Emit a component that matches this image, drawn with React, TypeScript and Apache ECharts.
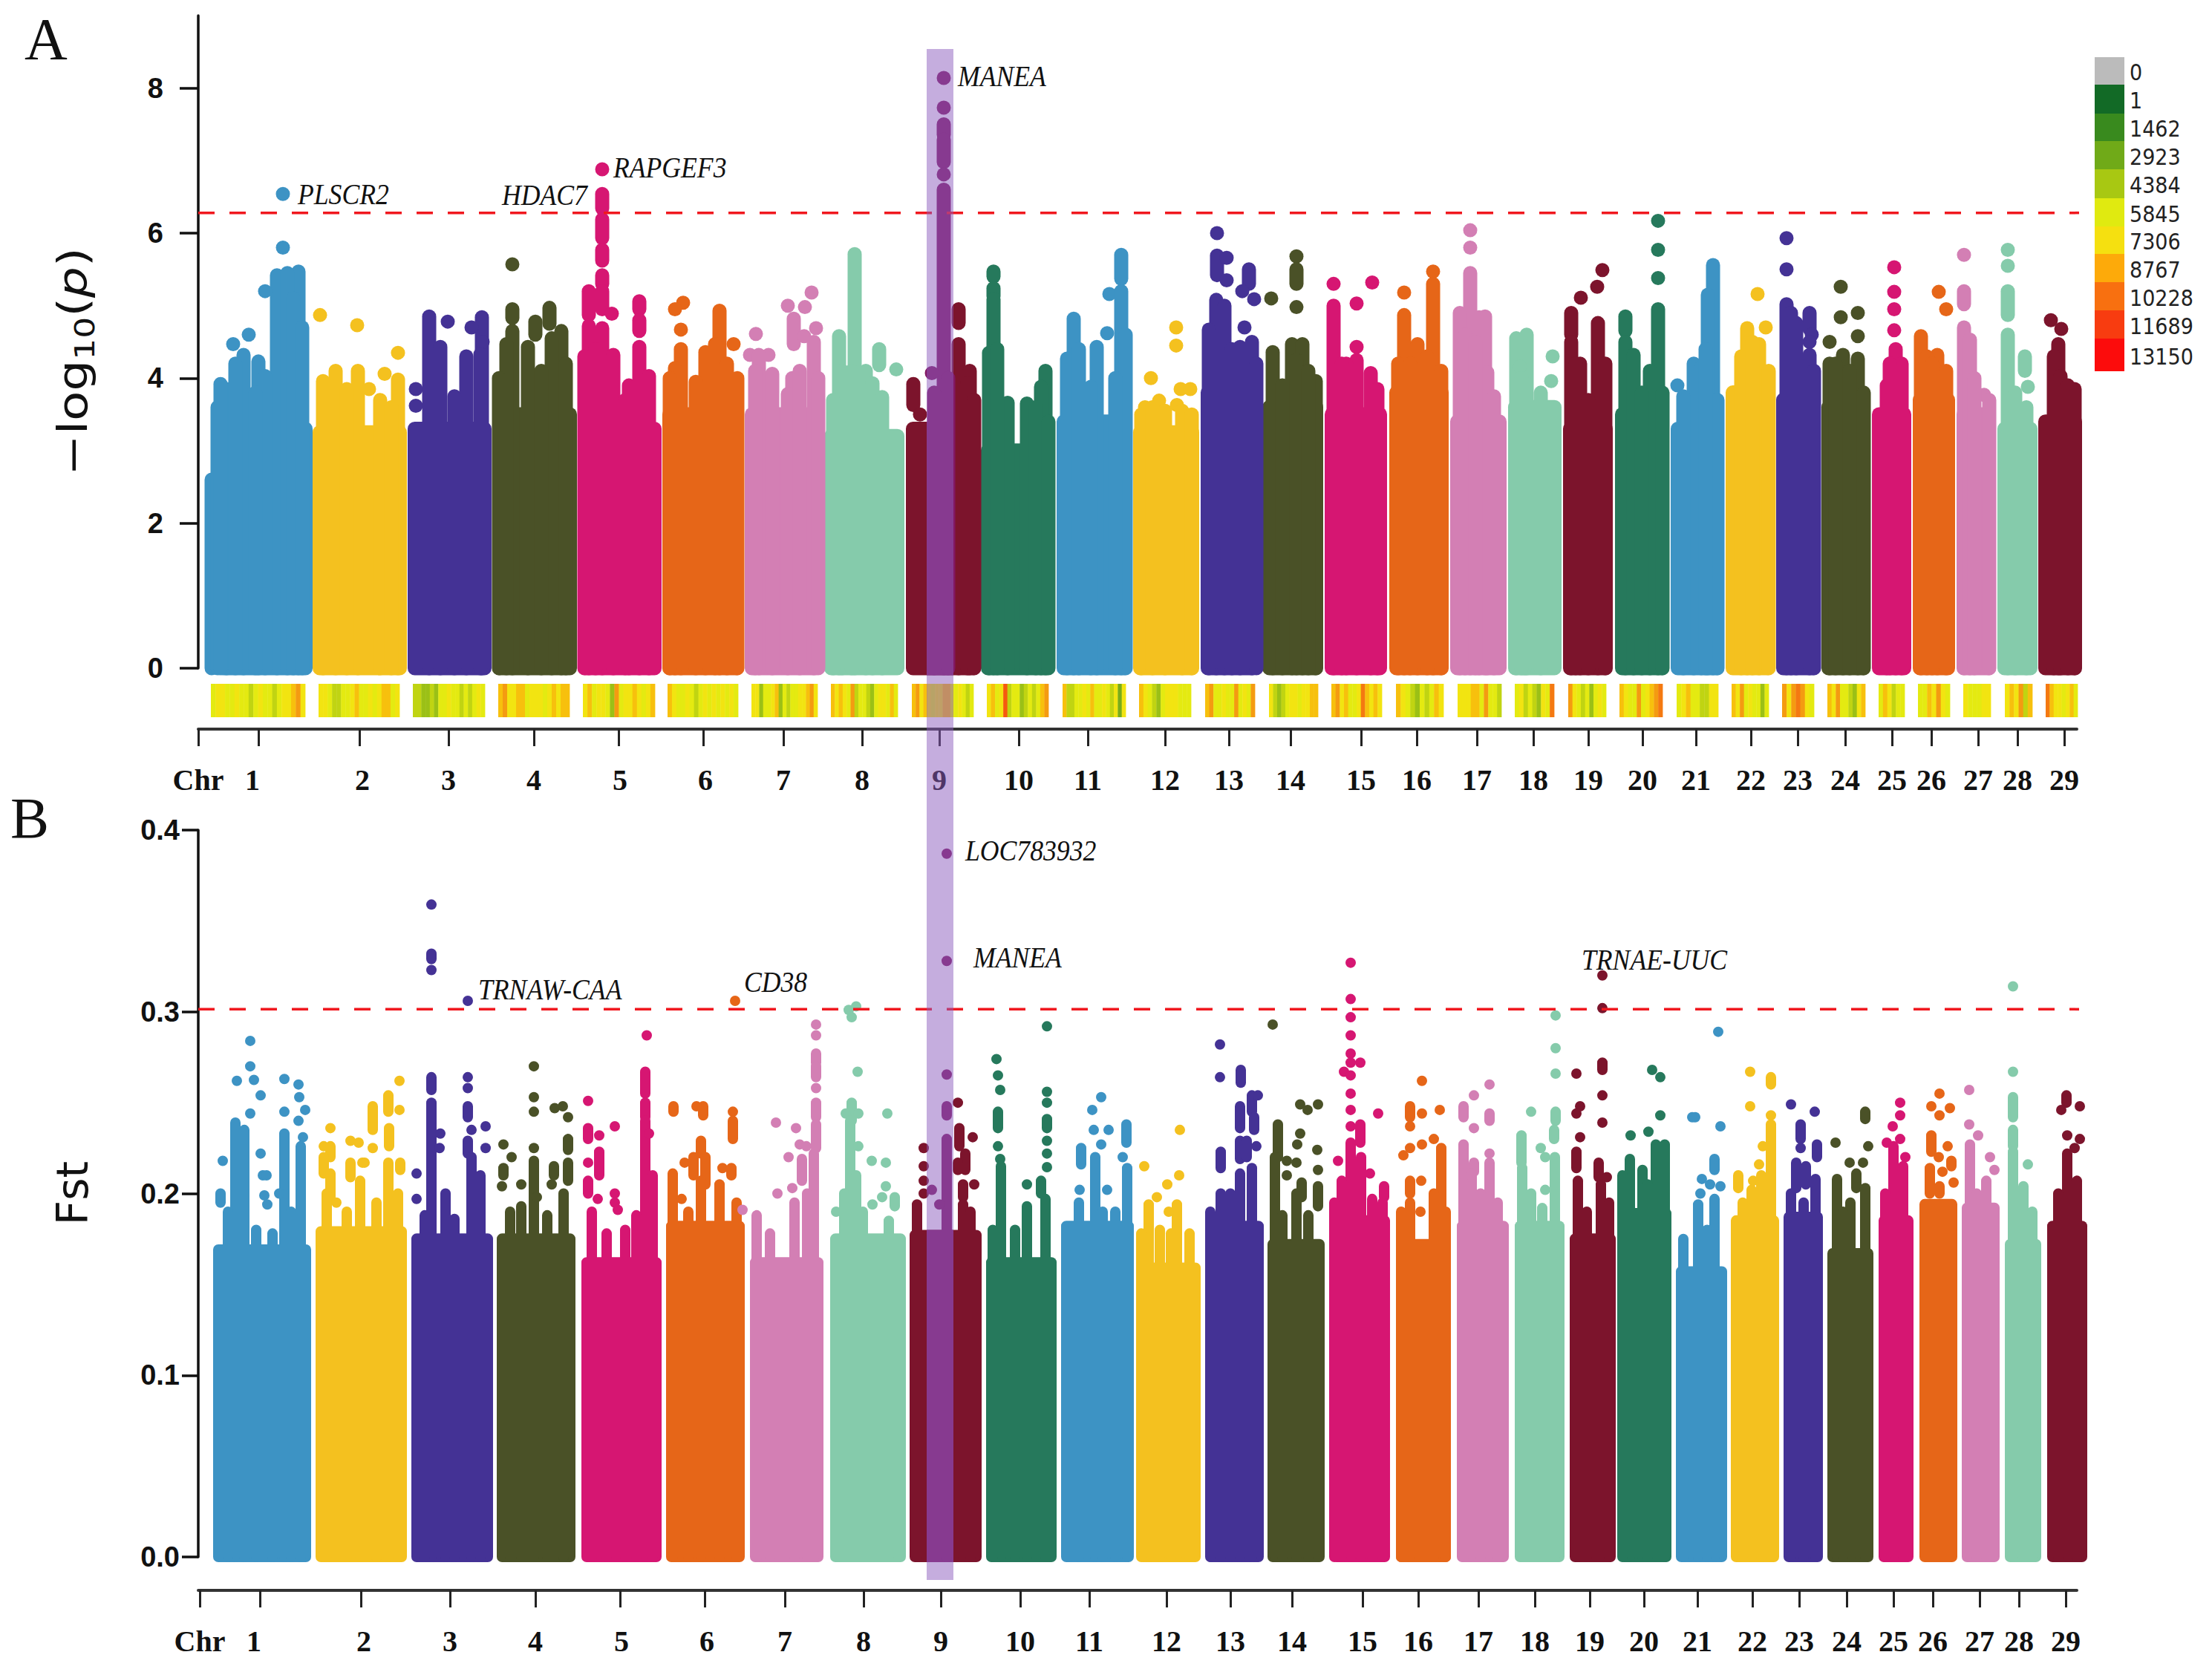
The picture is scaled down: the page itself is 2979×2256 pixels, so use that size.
import { useEffect, useRef } from "react";
import * as echarts from "echarts";

const chrColors = ["#3d93c4", "#f4c11f", "#443295", "#4a5127", "#d61672", "#e66618", "#d37fb4", "#85cbab", "#7c142c", "#26795c"];
const chrNames = ["1", "2", "3", "4", "5", "6", "7", "8", "9", "10", "11", "12", "13", "14", "15", "16", "17", "18", "19", "20", "21", "22", "23", "24", "25", "26", "27", "28", "29"];
// genome position of each chromosome tick, with the "Chr" tick at 0
const chrTicks = [0, 81, 217, 337, 452, 566, 680, 788, 894, 998, 1105, 1198, 1302, 1388, 1471, 1566, 1641, 1722, 1798, 1872, 1945, 2017, 2091, 2154, 2218, 2281, 2334, 2397, 2450, 2513];
const chrLabelPos = [0, 73, 221, 337, 452, 568, 683, 788, 894, 998, 1105, 1198, 1302, 1388, 1471, 1566, 1641, 1722, 1798, 1872, 1945, 2017, 2091, 2154, 2218, 2281, 2334, 2397, 2450, 2513];
const genomeEnd = 2530;

const gwasThreshold = 6.28;
const fstThreshold = 0.3014;
// the highlighted region on chromosome 9
const bandStart = 981;
const bandEnd = 1017;

// panel A: the solid part of each chromosome
const startA = [24, 154, 282, 396, 512, 625, 736, 843, 953, 1054, 1156, 1259, 1350, 1433, 1517, 1604, 1686, 1764, 1838, 1908, 1983, 2057, 2125, 2186, 2254, 2309, 2368, 2423, 2478];
const endA = [154, 281, 395, 510, 624, 735, 841, 951, 1053, 1152, 1257, 1348, 1430, 1515, 1601, 1684, 1762, 1836, 1905, 1981, 2055, 2123, 2184, 2252, 2307, 2366, 2421, 2477, 2537];
const baseA = [3.4, 3.35, 3.4, 3.6, 3.4, 3.6, 3.6, 3.3, 3.4, 3.1, 3.5, 3.35, 3.9, 3.7, 3.6, 3.9, 3.5, 3.7, 3.4, 3.6, 3.4, 3.9, 3.8, 3.7, 3.6, 3.8, 3.6, 3.4, 3.5];

// peaks: [pos, value] is one SNP, [pos, low, high] a run of SNPs (low 0 means it reaches the solid part)
const peaksA = [
  [[18, 0, 2.6], [26, 0, 3.6], [38, 0, 3.85], [114, 6.54], [114, 5.8], [135, 0, 5.47], [106, 0, 5.42], [120, 0, 5.45], [90, 5.2], [68, 4.6], [47, 4.47], [61, 0, 4.32], [50, 0, 4.2], [81, 0, 4.23], [90, 0, 4.03], [30, 0, 3.92], [77, 0, 3.8], [128, 0, 5.1], [140, 0, 4.7]],
  [[164, 4.87], [214, 4.73], [269, 4.35], [251, 4.06], [185, 0, 4.1], [215, 0, 4.1], [168, 0, 3.96], [269, 0, 3.98], [230, 3.85], [200, 0, 3.85], [245, 0, 3.7], [260, 0, 3.6]],
  [[311, 0, 4.85], [336, 4.78], [382, 0, 4.84], [368, 4.7, 4.7], [383, 4.5], [326, 0, 4.43], [361, 0, 4.3], [380, 0, 4.33], [293, 3.85], [293, 3.62], [345, 0, 3.75]],
  [[423, 5.57], [423, 4.83, 4.95], [473, 4.75, 4.97], [454, 4.6, 4.78], [423, 0, 4.65], [415, 0, 4.47], [489, 0, 4.65], [444, 0, 4.43], [476, 0, 4.55], [495, 0, 4.2], [405, 0, 4.0], [462, 0, 4.1]],
  [[544, 6.88], [544, 6.34, 6.54], [544, 5.93, 6.19], [544, 5.62, 5.77], [544, 5.3, 5.42], [544, 4.95, 5.2], [526, 4.87, 5.2], [526, 0, 4.72], [557, 4.89], [594, 4.95, 5.06], [594, 4.65, 4.8], [594, 0, 4.43], [544, 0, 4.69], [559, 0, 4.32], [607, 0, 4.03], [575, 0, 3.7], [520, 0, 4.3], [535, 0, 4.4], [580, 0, 3.9]],
  [[653, 5.04], [642, 4.95], [650, 4.67], [702, 0, 4.93], [721, 4.47], [650, 0, 4.4], [683, 0, 4.36], [642, 0, 4.14], [696, 0, 4.47], [670, 0, 3.95], [635, 0, 4.0], [726, 0, 4.0], [712, 0, 4.2]],
  [[751, 4.61], [743, 4.32], [768, 4.32], [755, 0, 4.32], [773, 0, 4.06], [794, 5.0], [817, 4.98], [826, 5.18], [802, 4.47, 4.82], [832, 4.69], [816, 4.58], [829, 0, 4.5], [800, 3.85, 4.0], [794, 0, 3.78], [750, 0, 4.1], [810, 0, 4.1], [835, 0, 4.0]],
  [[884, 0, 5.71], [863, 0, 4.58], [917, 4.18, 4.4], [940, 4.12], [899, 0, 4.1], [908, 0, 3.93], [921, 0, 3.74], [867, 0, 4.1], [855, 0, 3.7], [880, 0, 4.1]],
  [[963, 3.63, 3.92], [972, 3.5], [1004, 8.14], [1004, 7.73], [1004, 7.36, 7.5], [1004, 6.98, 7.29], [1004, 6.81], [1004, 0, 6.6], [988, 4.07], [991, 0, 3.8], [1024, 4.76, 4.95], [1024, 0, 4.47], [1039, 0, 4.1], [1036, 0, 3.93], [1010, 0, 4.0], [1045, 0, 3.7]],
  [[1071, 5.4, 5.47], [1071, 5.13, 5.24], [1071, 0, 5.09], [1065, 0, 4.35], [1141, 0, 4.1], [1090, 0, 3.66], [1116, 0, 3.65], [1135, 0, 3.88], [1076, 0, 4.4], [1128, 0, 3.6], [1145, 0, 3.4]],
  [[1243, 5.37, 5.7], [1227, 5.16], [1243, 0, 5.2], [1224, 4.62], [1179, 0, 4.82], [1210, 0, 4.43], [1170, 0, 4.27], [1202, 0, 3.88], [1249, 0, 4.6], [1186, 0, 4.4], [1235, 0, 4.0]],
  [[1317, 4.7], [1317, 4.45], [1283, 4.0], [1294, 3.69], [1323, 3.85], [1336, 3.85], [1318, 3.63], [1275, 3.6], [1270, 0, 3.5], [1285, 0, 3.6], [1302, 0, 3.55], [1325, 0, 3.55], [1338, 0, 3.5]],
  [[1372, 6.0], [1372, 5.42, 5.69], [1385, 5.66], [1385, 5.35], [1415, 5.3, 5.5], [1406, 5.2], [1422, 5.09], [1409, 4.7], [1371, 0, 5.08], [1382, 0, 5.0], [1361, 0, 4.67], [1419, 0, 4.5], [1403, 0, 4.43], [1392, 0, 4.4], [1425, 0, 4.2]],
  [[1445, 5.1], [1479, 5.68], [1479, 5.3, 5.5], [1479, 4.98], [1447, 0, 4.36], [1473, 0, 4.47], [1487, 0, 4.47], [1479, 0, 4.25], [1505, 0, 3.96], [1460, 0, 3.9], [1495, 0, 4.1]],
  [[1529, 5.3], [1529, 0, 5.0], [1560, 5.03], [1581, 5.32], [1560, 4.43], [1560, 0, 4.25], [1546, 0, 4.2], [1579, 0, 4.07], [1588, 0, 3.85], [1540, 0, 4.2]],
  [[1624, 5.18], [1624, 0, 4.87], [1663, 5.47], [1663, 0, 5.3], [1642, 0, 4.47], [1674, 0, 4.1], [1616, 0, 4.2], [1632, 0, 4.2], [1655, 0, 4.3]],
  [[1713, 6.04], [1713, 5.8], [1713, 0, 5.45], [1725, 0, 4.84], [1699, 0, 4.9], [1733, 0, 4.85], [1706, 0, 4.6], [1736, 0, 4.08], [1745, 0, 3.75], [1720, 0, 4.5]],
  [[1775, 0, 4.55], [1789, 0, 4.6], [1780, 4.16], [1824, 4.3], [1822, 3.96], [1786, 0, 3.96], [1808, 0, 3.8], [1782, 0, 4.0]],
  [[1891, 5.49], [1884, 5.26], [1862, 5.11], [1849, 4.6, 4.9], [1849, 0, 4.5], [1885, 0, 4.76], [1861, 0, 4.2], [1895, 0, 4.2], [1855, 0, 4.2], [1872, 0, 3.7]],
  [[1966, 6.17], [1966, 5.77], [1966, 5.38], [1966, 0, 4.95], [1922, 4.65, 4.85], [1922, 0, 4.5], [1933, 0, 4.32], [1955, 0, 4.1], [1972, 0, 3.8], [1944, 0, 3.8]],
  [[2040, 0, 5.56], [2033, 0, 5.15], [2014, 0, 4.2], [2024, 0, 4.15], [1992, 3.9], [2000, 0, 3.75], [2046, 0, 3.7], [2030, 0, 4.4]],
  [[2100, 5.16], [2111, 4.7], [2086, 0, 4.69], [2102, 0, 4.47], [2078, 0, 4.3], [2115, 0, 4.1], [2093, 0, 4.5]],
  [[2139, 5.93], [2139, 5.5], [2139, 0, 5.02], [2170, 4.68, 4.9], [2173, 4.6], [2170, 4.5], [2170, 0, 4.32], [2152, 0, 4.76], [2145, 0, 4.9], [2176, 0, 4.1]],
  [[2212, 5.26], [2212, 4.84], [2235, 4.9], [2235, 4.58], [2197, 4.5], [2215, 0, 4.32], [2235, 0, 4.27], [2197, 0, 4.2], [2205, 0, 4.2], [2224, 0, 4.1], [2243, 0, 3.8]],
  [[2284, 5.53], [2284, 5.19], [2284, 4.95], [2284, 4.66], [2286, 0, 4.4], [2274, 0, 3.9], [2294, 0, 4.2], [2278, 0, 4.2]],
  [[2344, 5.19], [2354, 4.95], [2320, 0, 4.58], [2342, 0, 4.32], [2328, 0, 4.3], [2354, 0, 4.1], [2335, 0, 4.2]],
  [[2378, 5.7], [2378, 5.02, 5.2], [2378, 0, 4.7], [2386, 0, 4.53], [2405, 3.77], [2392, 0, 4.0], [2412, 0, 3.7]],
  [[2437, 5.77], [2437, 5.55], [2437, 4.87, 5.2], [2437, 0, 4.6], [2460, 4.1, 4.3], [2464, 3.88], [2447, 0, 3.8], [2462, 0, 3.6]],
  [[2495, 4.8], [2509, 4.68], [2505, 0, 4.47], [2499, 0, 4.3], [2527, 0, 3.85], [2508, 0, 4.03], [2518, 0, 3.9]],
];

// SNP density strip under panel A, one list of legend steps per chromosome
const stripStart = [17, 162, 289, 404, 518, 632, 745, 852, 961, 1062, 1164, 1267, 1356, 1442, 1526, 1613, 1696, 1773, 1845, 1914, 1991, 2065, 2133, 2194, 2263, 2316, 2377, 2433, 2488];
const stripEnd = [144, 271, 386, 500, 615, 727, 834, 942, 1044, 1145, 1249, 1337, 1423, 1508, 1594, 1677, 1755, 1826, 1896, 1972, 2047, 2115, 2176, 2245, 2298, 2359, 2414, 2470, 2531];
const stripLevels = [
  [5, 6, 6, 5, 5, 6, 5, 5, 4, 5, 6, 5, 5, 4, 5, 6, 6, 7, 8, 6],
  [6, 6, 5, 4, 4, 5, 5, 6, 7, 5, 5, 6, 5, 6, 7, 7, 5, 6],
  [4, 4, 3, 3, 4, 3, 5, 5, 6, 5, 5, 4, 5, 4, 5, 6, 5],
  [7, 8, 6, 6, 7, 7, 5, 6, 6, 6, 5, 6, 7, 6, 7, 7],
  [6, 7, 5, 6, 6, 5, 3, 8, 5, 6, 6, 7, 6, 5, 6, 7],
  [7, 6, 5, 5, 6, 5, 4, 5, 6, 5, 6, 5, 6, 5, 6, 5],
  [6, 6, 3, 5, 5, 6, 7, 3, 5, 4, 5, 5, 6, 6, 7, 8, 6],
  [7, 6, 7, 6, 5, 8, 4, 5, 5, 4, 3, 5, 6, 6, 5, 7, 5],
  [7, 8, 6, 7, 6, 5, 6, 6, 7, 7, 5, 5, 6, 5, 4, 5],
  [6, 7, 5, 6, 10, 4, 5, 5, 3, 4, 5, 4, 5, 7, 8],
  [7, 4, 4, 5, 5, 6, 5, 7, 5, 5, 6, 5, 4, 6, 2, 6],
  [7, 6, 5, 4, 3, 5, 6, 6, 6, 5, 5, 5],
  [7, 8, 5, 5, 6, 5, 5, 8, 5, 6, 5, 8],
  [6, 4, 3, 4, 5, 6, 6, 5, 6, 6, 7, 7],
  [7, 8, 6, 7, 5, 5, 6, 9, 7, 6, 7, 6],
  [7, 6, 5, 4, 3, 5, 4, 5, 7, 6],
  [6, 6, 6, 7, 7, 5, 8, 5, 5, 4],
  [5, 6, 4, 5, 4, 3, 6, 5, 9],
  [8, 6, 5, 4, 5, 3, 5, 6, 5],
  [7, 6, 5, 5, 8, 5, 6, 7, 8, 9],
  [5, 6, 7, 5, 5, 4, 4, 6, 6],
  [7, 6, 8, 5, 6, 5, 5, 3, 5],
  [8, 6, 8, 9, 8, 6, 5],
  [7, 6, 8, 5, 5, 4, 3, 6, 7],
  [5, 7, 6, 4, 5, 5],
  [5, 5, 7, 6, 8, 6, 5],
  [6, 5, 5, 5, 6, 6],
  [6, 7, 6, 8, 4, 7],
  [9, 7, 6, 6, 5, 6, 7, 5],
];
const legendLabels = ["0", "1", "1462", "2923", "4384", "5845", "7306", "8767", "10228", "11689", "13150"];
const legendColors = ["#bbbbbb", "#126a26", "#398a1e", "#70aa18", "#a8c812", "#e0ea10", "#f5e010", "#fdaa0a", "#f87010", "#f83c10", "#fc0c0c"];
const legendTops = [77, 114, 153, 190, 228, 267, 305, 342, 380, 418, 456, 500];

// panel B
const startB = [20, 158, 287, 402, 516, 630, 743, 851, 958, 1061, 1162, 1265, 1357, 1440, 1526, 1613, 1695, 1773, 1847, 1913, 1990, 2064, 2135, 2194, 2263, 2318, 2375, 2433, 2490];
const endB = [152, 281, 397, 508, 624, 736, 842, 953, 1055, 1156, 1260, 1350, 1435, 1517, 1605, 1687, 1765, 1840, 1909, 1984, 2059, 2129, 2188, 2256, 2310, 2369, 2426, 2482, 2544];
const baseB = [0.172, 0.182, 0.178, 0.178, 0.165, 0.185, 0.165, 0.178, 0.18, 0.165, 0.185, 0.162, 0.185, 0.175, 0.188, 0.175, 0.185, 0.185, 0.178, 0.192, 0.16, 0.188, 0.19, 0.17, 0.188, 0.197, 0.195, 0.175, 0.185];
const peaksB = [
  [[70, 0.284], [70, 0.27], [52, 0.262], [75, 0.2625], [84, 0.254], [70, 0.244], [116, 0.263], [135, 0.26], [136, 0.253], [116, 0.245], [144, 0.246], [135, 0.24], [50, 0, 0.239], [62, 0, 0.235], [84, 0.222], [33, 0.218], [87, 0.21], [92, 0.21], [89, 0.199], [93, 0.194], [30, 0.195, 0.2], [116, 0, 0.233], [141, 0.231], [138, 0, 0.226], [109, 0.2], [40, 0, 0.19], [125, 0, 0.19], [100, 0, 0.178], [78, 0, 0.18]],
  [[271, 0.262], [256, 0.245, 0.254], [271, 0.246], [235, 0.235, 0.248], [178, 0.236], [205, 0.229], [216, 0.228], [257, 0.226, 0.236], [235, 0.225], [169, 0.226], [178, 0.22, 0.226], [169, 0.211, 0.22], [224, 0.217], [205, 0.209, 0.217], [221, 0.217], [272, 0.213, 0.217], [256, 0, 0.217], [178, 0.198, 0.211], [218, 0, 0.207], [173, 0, 0.2], [269, 0, 0.2], [186, 0.195], [200, 0, 0.19], [240, 0, 0.195]],
  [[314, 0.359], [314, 0.329, 0.332], [314, 0.323], [363, 0.306], [314, 0.257, 0.264], [363, 0.264], [363, 0.258], [363, 0.242, 0.248], [314, 0, 0.25], [326, 0.233], [325, 0.225], [368, 0.235], [387, 0.237], [387, 0.225], [363, 0.222, 0.229], [294, 0.211], [294, 0.197], [368, 0, 0.22], [380, 0, 0.21], [333, 0, 0.2], [345, 0, 0.186], [305, 0, 0.188]],
  [[452, 0.27], [452, 0.253], [452, 0.245], [480, 0.247], [491, 0.248], [498, 0.242], [411, 0.227], [452, 0.225], [498, 0.224, 0.23], [422, 0.22], [452, 0, 0.218], [479, 0.21, 0.215], [498, 0.207, 0.217], [411, 0.21, 0.214], [476, 0.205], [435, 0.205], [409, 0.204], [492, 0, 0.2], [456, 0.198], [435, 0, 0.193], [420, 0, 0.19], [470, 0, 0.188]],
  [[525, 0.251], [561, 0.237], [525, 0.23, 0.236], [540, 0.232], [604, 0.287], [602, 0.255, 0.267], [602, 0.242, 0.25], [602, 0, 0.24], [540, 0.21, 0.223], [525, 0.217], [561, 0.2], [561, 0.195], [525, 0.2, 0.207], [538, 0.197], [565, 0.191], [607, 0.233], [612, 0, 0.21], [530, 0, 0.19], [550, 0, 0.178], [590, 0, 0.188], [575, 0, 0.18]],
  [[723, 0.306], [640, 0.245, 0.248], [680, 0.243, 0.248], [671, 0.248], [720, 0.245], [720, 0.23, 0.24], [677, 0.222, 0.229], [655, 0.217], [667, 0.21, 0.22], [683, 0.205, 0.22], [639, 0, 0.211], [706, 0.214], [718, 0.21, 0.214], [702, 0, 0.205], [677, 0, 0.207], [651, 0.197], [725, 0, 0.195], [660, 0, 0.19]],
  [[778, 0.239], [805, 0.236], [832, 0.293], [832, 0.287], [832, 0.272, 0.277], [832, 0.264, 0.27], [832, 0.258], [832, 0.242, 0.25], [832, 0.225, 0.238], [810, 0.227], [819, 0.226], [795, 0.22], [813, 0.207, 0.219], [829, 0, 0.222], [800, 0.203], [780, 0.2], [803, 0, 0.195], [752, 0, 0.188], [733, 0.191], [770, 0, 0.178], [820, 0, 0.2]],
  [[886, 0.303], [876, 0.301], [880, 0.297], [888, 0.267], [880, 0.24, 0.25], [889, 0.244], [872, 0.244], [928, 0.244], [878, 0, 0.24], [889, 0.226], [907, 0.218], [926, 0.217], [926, 0.204], [908, 0.194], [921, 0.198], [938, 0.193, 0.198], [886, 0, 0.21], [859, 0.19], [895, 0, 0.19], [870, 0, 0.2], [930, 0, 0.185]],
  [[1008, 0.387], [1008, 0.328], [1008, 0.2655], [1008, 0.243, 0.248], [1008, 0, 0.23], [977, 0.225], [977, 0.215], [977, 0.207], [977, 0.2], [968, 0, 0.194], [988, 0.202], [998, 0.194], [1023, 0.25], [1025, 0.226, 0.236], [1043, 0.231], [1033, 0.213, 0.222], [1023, 0.213, 0.217], [1045, 0.205], [1030, 0.198, 0.205], [1030, 0, 0.194], [1040, 0, 0.19]],
  [[1075, 0.274], [1077, 0.265], [1080, 0.257], [1143, 0.292], [1143, 0.256], [1143, 0.25], [1143, 0.236, 0.241], [1143, 0.229], [1143, 0.222], [1143, 0.2145], [1077, 0.236, 0.245], [1077, 0.226], [1080, 0.219], [1081, 0, 0.215], [1116, 0.205], [1135, 0.2, 0.207], [1141, 0, 0.197], [1116, 0, 0.193], [1070, 0, 0.18], [1100, 0, 0.18]],
  [[1216, 0.253], [1204, 0.246], [1206, 0.235], [1226, 0.235], [1250, 0.228, 0.238], [1216, 0.227], [1189, 0.216, 0.225], [1208, 0, 0.22], [1245, 0.22], [1251, 0, 0.214], [1224, 0.202], [1187, 0.202], [1186, 0, 0.195], [1218, 0, 0.19], [1235, 0, 0.19]],
  [[1322, 0.235], [1274, 0.215], [1321, 0.21], [1305, 0.205], [1291, 0.198], [1280, 0, 0.194], [1318, 0, 0.194], [1307, 0.19], [1295, 0, 0.18], [1335, 0, 0.178], [1270, 0, 0.178], [1310, 0, 0.178]],
  [[1376, 0.282], [1376, 0.264], [1404, 0.261, 0.268], [1419, 0.245, 0.254], [1427, 0.254], [1403, 0.236, 0.248], [1422, 0.235, 0.242], [1403, 0.219, 0.229], [1412, 0.22, 0.229], [1425, 0.226], [1377, 0.214, 0.223], [1377, 0, 0.2], [1403, 0, 0.211], [1419, 0, 0.214], [1363, 0, 0.19], [1390, 0, 0.2]],
  [[1447, 0.293], [1484, 0.249], [1494, 0.246], [1508, 0.249], [1454, 0.22, 0.238], [1450, 0, 0.22], [1484, 0.233], [1480, 0.227], [1507, 0.224], [1466, 0.218], [1479, 0.217], [1466, 0.21], [1508, 0.213], [1486, 0.198, 0.206], [1508, 0.193, 0.204], [1479, 0, 0.2], [1495, 0, 0.188], [1460, 0, 0.188]],
  [[1552, 0.327], [1552, 0.307], [1552, 0.297], [1552, 0.287], [1552, 0.277], [1565, 0.272], [1552, 0.272], [1543, 0.267], [1552, 0.265], [1552, 0.255], [1552, 0.246], [1589, 0.244], [1552, 0.237], [1565, 0.228, 0.238], [1552, 0, 0.228], [1535, 0.218], [1578, 0.211], [1597, 0.198, 0.204], [1540, 0, 0.207], [1581, 0, 0.197], [1566, 0, 0.22], [1530, 0, 0.195], [1595, 0, 0.195]],
  [[1648, 0.262], [1632, 0.242, 0.248], [1648, 0.244], [1672, 0.246], [1632, 0.237], [1664, 0.23], [1648, 0.227], [1632, 0.225], [1623, 0.221], [1674, 0, 0.225], [1632, 0.2, 0.207], [1647, 0.207], [1632, 0, 0.195], [1646, 0.19], [1664, 0, 0.2], [1680, 0, 0.19], [1620, 0, 0.19]],
  [[1718, 0.254], [1704, 0.242, 0.248], [1718, 0.236], [1704, 0.206, 0.227], [1718, 0.212, 0.217], [1715, 0, 0.211], [1739, 0.26], [1739, 0.24, 0.244], [1739, 0.222], [1739, 0, 0.217], [1704, 0, 0.206], [1727, 0, 0.2], [1750, 0, 0.195]],
  [[1828, 0.298], [1828, 0.28], [1828, 0.266], [1795, 0.245], [1828, 0.24, 0.245], [1826, 0.23, 0.235], [1808, 0.225], [1814, 0.22], [1782, 0.217, 0.232], [1827, 0.206, 0.22], [1783, 0, 0.214], [1814, 0.202], [1827, 0, 0.206], [1795, 0, 0.2], [1810, 0, 0.192]],
  [[1891, 0.32], [1891, 0.302], [1891, 0.268, 0.272], [1856, 0.266], [1891, 0.254], [1861, 0.248], [1856, 0.244], [1891, 0.239], [1861, 0.231], [1856, 0.214, 0.223], [1886, 0.209, 0.217], [1897, 0.209], [1858, 0, 0.207], [1889, 0, 0.205], [1870, 0, 0.19], [1900, 0, 0.195]],
  [[1958, 0.268], [1969, 0.264], [1969, 0.243], [1953, 0.234], [1929, 0.232], [1963, 0, 0.227], [1975, 0, 0.227], [1928, 0, 0.219], [1945, 0, 0.213], [1918, 0, 0.21], [1952, 0, 0.205]],
  [[2016, 0.242], [2012, 0.242], [2047, 0.289], [2050, 0.237], [2042, 0.213, 0.219], [2025, 0.208], [2036, 0.205], [2050, 0.204], [2023, 0.2], [2042, 0, 0.197], [2020, 0, 0.194], [2000, 0, 0.175], [2032, 0, 0.18]],
  [[2090, 0.267], [2090, 0.248], [2118, 0.26, 0.264], [2118, 0.243], [2118, 0, 0.238], [2107, 0.226], [2102, 0.216], [2074, 0.203, 0.21], [2094, 0.207], [2092, 0, 0.202], [2105, 0, 0.21], [2080, 0, 0.195]],
  [[2145, 0.249], [2177, 0.245], [2158, 0.23, 0.238], [2158, 0.225], [2180, 0.22, 0.227], [2152, 0.203, 0.217], [2165, 0.205, 0.215], [2145, 0, 0.2], [2178, 0, 0.208], [2162, 0, 0.195]],
  [[2245, 0.241, 0.245], [2205, 0.228], [2249, 0.226], [2224, 0.217], [2242, 0.217], [2233, 0.203, 0.211], [2207, 0, 0.208], [2245, 0, 0.203], [2225, 0, 0.195], [2215, 0, 0.19]],
  [[2292, 0.25], [2292, 0.243], [2282, 0.237], [2292, 0.23], [2274, 0.228], [2283, 0, 0.226], [2299, 0.22], [2296, 0, 0.215], [2272, 0, 0.2]],
  [[2345, 0.255], [2334, 0.248], [2359, 0.247], [2345, 0.243], [2334, 0.223, 0.232], [2356, 0.226], [2344, 0.22], [2361, 0.215, 0.218], [2332, 0.2, 0.214], [2349, 0.212], [2364, 0.206], [2345, 0.2, 0.204]],
  [[2385, 0.257], [2385, 0.238], [2397, 0.232], [2386, 0, 0.227], [2413, 0.22], [2419, 0.213], [2408, 0, 0.207], [2395, 0, 0.2]],
  [[2444, 0.314], [2444, 0.267], [2444, 0.242, 0.253], [2444, 0.226, 0.235], [2464, 0.216], [2444, 0, 0.223], [2458, 0, 0.204], [2470, 0, 0.19]],
  [[2516, 0.25, 0.254], [2509, 0.246], [2534, 0.248], [2517, 0.232], [2534, 0.23], [2527, 0.225], [2517, 0, 0.222], [2530, 0, 0.207], [2505, 0, 0.2]],
];

// gene names: [pos, value, name]
const genesA = [[134, 6.54, "PLSCR2"], [409, 6.53, "HDAC7"], [559, 6.91, "RAPGEF3"], [1023, 8.17, "MANEA"]];
const genesB = [[1033, 0.389, "LOC783932"], [1044, 0.33, "MANEA"], [735, 0.3166, "CD38"], [377, 0.3124, "TRNAW-CAA"], [1863, 0.329, "TRNAE-UUC"]];

// marks inside the band get this colour, under the translucent band it reads as purple
const IN_BAND = -1;
const chrColor = (i: number) => (i === IN_BAND ? "#821862" : chrColors[i % chrColors.length]);
const inBand = (pos: number, i: number) => i === 8 && pos > bandStart && pos < bandEnd;

const peakItems = (peaks: number[][][]) =>
  peaks.flatMap((list, i) =>
    list.map((p) => {
      const c = inBand(p[0], i) ? IN_BAND : i;
      return p.length === 2 ? [p[0], p[1], p[1], c] : [p[0], p[1], p[2], c];
    })
  );

const blockItems = (starts: number[], ends: number[], bases: number[]) => [
  ...bases.map((h, i) => [starts[i], ends[i], h, i]),
  [bandStart, bandEnd, bases[8], IN_BAND],
];

const stripColor = (level: number) => echarts.color.lerp(0.35, [legendColors[level], "#ecea12"]);

const stripItems = () =>
  stripLevels.flatMap((levels, i) => {
    const w = (stripEnd[i] - stripStart[i]) / levels.length;
    return levels.map((lv, j) => [stripStart[i] + j * w, stripStart[i] + (j + 1) * w, lv]);
  });

// a run of overlapping round SNP dots, drawn as one capsule
const renderPeak = (r: number) => (_: any, api: any) => {
  const [cx, yLow] = api.coord([api.value(0), api.value(1)]);
  const yHigh = api.coord([api.value(0), api.value(2)])[1];
  return {
    type: "rect",
    shape: { x: cx - r, y: yHigh - r, width: r * 2, height: yLow - yHigh + r * 2, r },
    style: { fill: chrColor(api.value(3)) },
  };
};

const renderBlock = (r: number) => (_: any, api: any) => {
  const [x0, yTop] = api.coord([api.value(0), api.value(2)]);
  const [x1, yBottom] = api.coord([api.value(1), 0]);
  return {
    type: "rect",
    shape: { x: x0, y: yTop, width: x1 - x0, height: yBottom - yTop + r, r: api.value(3) === IN_BAND ? 0 : r },
    style: { fill: chrColor(api.value(3)) },
  };
};

const renderStrip = (_: any, api: any) => {
  const [x0, yTop] = api.coord([api.value(0), 1]);
  const [x1, yBottom] = api.coord([api.value(1), 0]);
  return {
    type: "rect",
    shape: { x: x0, y: yTop, width: x1 - x0 + 0.4, height: yBottom - yTop },
    style: { fill: stripColor(api.value(2)) },
  };
};

const renderGene = (_: any, api: any) => {
  const [x, y] = api.coord([api.value(0), api.value(1)]);
  return {
    type: "text",
    x,
    y,
    scaleX: 0.87,
    style: {
      text: api.value(2),
      fontFamily: "Liberation Serif",
      fontStyle: "italic",
      fontSize: 41,
      fill: "#111",
      align: "left",
      verticalAlign: "middle",
    },
  };
};

const chromAxis = (gridIndex: number, offset: number, shift: number) => {
  const ticks = chrTicks.map((v) => v + shift);
  const labels = chrLabelPos.map((v) => v + shift);
  return {
    type: "value",
    gridIndex,
    min: 0,
    max: genomeEnd,
    position: "bottom",
    offset,
    splitLine: { show: false },
    axisLine: { onZero: false, lineStyle: { color: "#333", width: 4 } },
    axisTick: { customValues: ticks, length: 23, lineStyle: { color: "#222", width: 3 } },
    axisLabel: {
      customValues: labels,
      margin: 48,
      fontFamily: "Liberation Serif",
      fontWeight: "bold",
      fontSize: 40,
      color: "#111",
      formatter: (v: number) => {
        const i = labels.indexOf(v);
        return i === 0 ? "Chr" : chrNames[i - 1];
      },
    },
  };
};

const valueAxisStyle = {
  splitLine: { show: false },
  axisLine: { show: true, onZero: false, lineStyle: { color: "#111", width: 3.5 } },
};

const thresholdLine = (axis: number, value: number, end: number) => ({
  type: "line",
  xAxisIndex: axis,
  yAxisIndex: axis,
  data: [[0, value], [end, value]],
  showSymbol: false,
  silent: true,
  clip: false,
  z: 8,
  lineStyle: { color: "#f0181f", width: 3.5, type: [22, 20] },
});

const panelSeries = (axis: number, r: number, blocks: number[][], peaks: number[][], genes: any[]) => [
  { type: "custom", xAxisIndex: axis, yAxisIndex: axis, z: 3, renderItem: renderBlock(r), data: blocks, silent: true },
  { type: "custom", xAxisIndex: axis, yAxisIndex: axis, z: 4, renderItem: renderPeak(r), data: peaks, silent: true },
  { type: "custom", xAxisIndex: axis, yAxisIndex: axis, z: 9, renderItem: renderGene, data: genes, silent: true },
];

const legendGraphics = () =>
  legendLabels.flatMap((label, i) => [
    {
      type: "rect",
      shape: { x: 2821, y: legendTops[i], width: 40, height: legendTops[i + 1] - legendTops[i] },
      style: { fill: legendColors[i] },
    },
    {
      type: "text",
      x: 2868,
      y: (legendTops[i] + legendTops[i + 1]) / 2 + 2,
      style: {
        text: label,
        fontFamily: "DejaVu Sans Condensed, DejaVu Sans",
        fontSize: 30,
        fill: "#222",
        verticalAlign: "middle",
      },
    },
  ]);

function App() {
  const chartRef = useRef<HTMLDivElement>(null);

  useEffect(() => {
    if (!chartRef.current) return;
    const chart = echarts.init(chartRef.current, null, { renderer: "svg" });

    const option = {
      animation: false,
      backgroundColor: "#fff",
      grid: [
        { left: 267, top: 21, width: genomeEnd, height: 879 },
        { left: 267, top: 921, width: genomeEnd, height: 45 },
        { left: 267, top: 1118, width: genomeEnd, height: 979 },
      ],
      xAxis: [
        chromAxis(0, 82, 0),
        { type: "value", gridIndex: 1, min: 0, max: genomeEnd, show: false },
        chromAxis(2, 45, 2),
      ],
      yAxis: [
        {
          type: "value",
          gridIndex: 0,
          min: 0,
          max: 9,
          ...valueAxisStyle,
          axisTick: { customValues: [0, 2, 4, 6, 8], length: 25, lineStyle: { color: "#111", width: 3.5 } },
          axisLabel: {
            customValues: [0, 2, 4, 6, 8],
            margin: 47,
            fontFamily: "Liberation Sans",
            fontWeight: "bold",
            fontSize: 38,
            color: "#111",
          },
        },
        { type: "value", gridIndex: 1, min: 0, max: 1, show: false },
        {
          type: "value",
          gridIndex: 2,
          min: 0,
          max: 0.4,
          interval: 0.1,
          ...valueAxisStyle,
          axisTick: { length: 22, lineStyle: { color: "#111", width: 3.5 } },
          axisLabel: {
            margin: 25,
            fontFamily: "Liberation Sans",
            fontWeight: "bold",
            fontSize: 38,
            color: "#111",
            formatter: (v: number) => v.toFixed(1),
          },
        },
      ],
      series: [
        ...panelSeries(0, 9.5, blockItems(startA, endA, baseA), peakItems(peaksA), genesA),
        { type: "custom", xAxisIndex: 1, yAxisIndex: 1, z: 3, renderItem: renderStrip, data: stripItems(), silent: true },
        ...panelSeries(2, 7, blockItems(startB, endB, baseB), peakItems(peaksB), genesB),
        thresholdLine(0, gwasThreshold, 2533),
        thresholdLine(2, fstThreshold, 2545),
      ],
      graphic: [
        {
          type: "text",
          x: 62,
          y: 53,
          style: { text: "A", fontFamily: "Liberation Serif", fontSize: 80, fill: "#111", align: "center", verticalAlign: "middle" },
        },
        {
          type: "text",
          x: 40,
          y: 1101,
          style: { text: "B", fontFamily: "Liberation Serif", fontSize: 78, fill: "#111", align: "center", verticalAlign: "middle" },
        },
        {
          type: "text",
          x: 98,
          y: 487,
          rotation: Math.PI / 2,
          scaleX: 1.2,
          style: {
            text: "{a|\u2212log}{s|10}{a|(}{p|p}{a|)}",
            align: "center",
            verticalAlign: "middle",
            rich: {
              a: { fontFamily: "DejaVu Sans", fontSize: 55, fill: "#111", lineHeight: 70 },
              s: { fontFamily: "DejaVu Sans", fontSize: 38, fill: "#111", lineHeight: 70, verticalAlign: "bottom" },
              p: { fontFamily: "DejaVu Sans", fontStyle: "italic", fontSize: 55, fill: "#111", lineHeight: 70 },
            },
          },
        },
        {
          type: "text",
          x: 98,
          y: 1607,
          rotation: Math.PI / 2,
          style: { text: "Fst", fontFamily: "DejaVu Sans", fontSize: 58, fill: "#111", align: "center", verticalAlign: "middle" },
        },
        ...legendGraphics(),
        {
          type: "rect",
          z: 100,
          shape: { x: 1248, y: 66, width: 36, height: 2062 },
          style: { fill: "rgb(140, 92, 190)", opacity: 0.5 },
        },
      ],
    };

    chart.setOption(option);
    return () => chart.dispose();
  }, []);

  return <div ref={chartRef} style={{ position: "absolute", left: 0, top: 0, width: 2979, height: 2256 }} />;
}

export default App;
